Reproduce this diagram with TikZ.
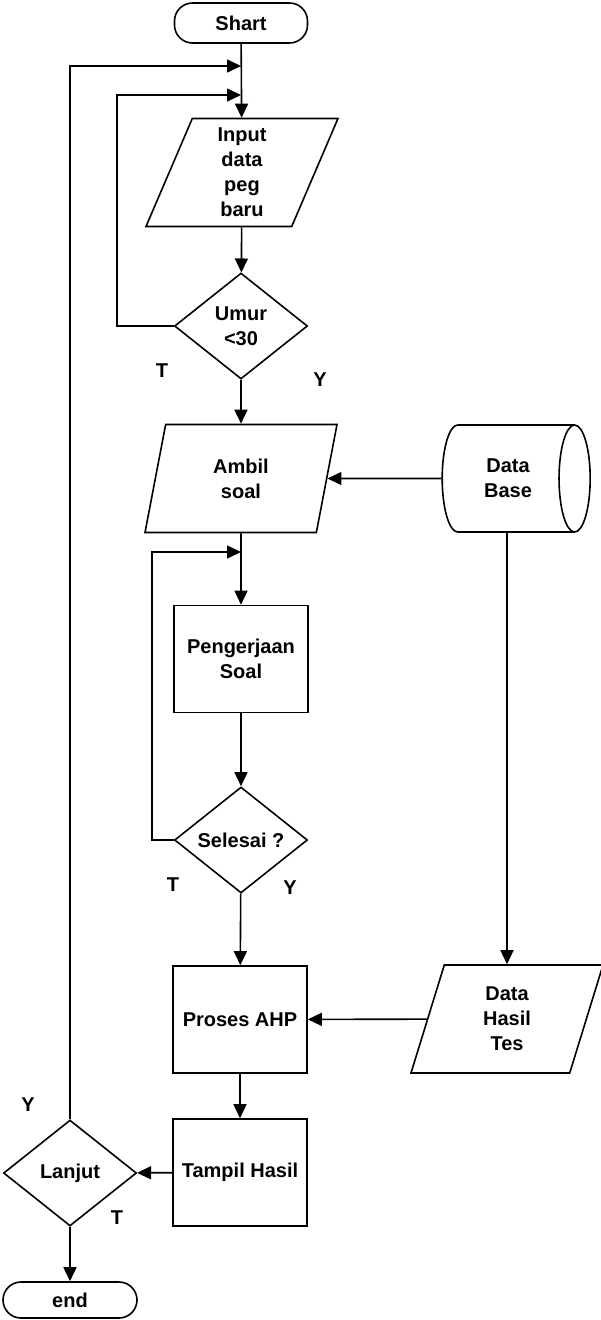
\documentclass[tikz,border=0pt]{standalone}
\usepackage{fontspec}
\setmainfont{Liberation Sans}
\usetikzlibrary{shapes.geometric, arrows.meta}

\tikzset{
  base/.style={draw, line width=1.6pt, align=center, inner sep=0pt,
    font=\bfseries\fontsize{20}{25}\selectfont},
  terminal/.style={base, rectangle, rounded corners=18pt, minimum width=133pt},
  io/.style={base, trapezium, trapezium left angle=62.5, trapezium right angle=117.5,
    trapezium stretches body, minimum width=192pt, minimum height=108pt},
  process/.style={base, rectangle, minimum width=134pt, minimum height=107pt},
  decision/.style={base, diamond, minimum width=133pt, minimum height=106pt},
  storage/.style={base, cylinder, shape aspect=0.8, minimum width=107pt, minimum height=148pt},
  lbl/.style={font=\bfseries\fontsize{20}{25}\selectfont},
  arr/.style={line width=1.6pt, -{Triangle[length=14pt,width=13pt]}},
  line/.style={line width=1.6pt}
}

\begin{document}
\begin{tikzpicture}[x=1pt, y=-1pt]
  \useasboundingbox (0,0) rectangle (600,1320);

  % main column
  \node[terminal, minimum height=40pt] (start) at (241,23) {Shart};
  \node[io] (input) at (242,172.5) {Input\\data\\peg\\baru};
  \node[decision] (umur) at (241,326) {Umur\\<30};
  \node[io] (ambil) at (241,478.5) {Ambil\\soal};
  \node[process] (kerja) at (241,659) {Pengerjaan\\Soal};
  \node[decision] (selesai) at (241,840) {Selesai ?};
  \node[process] (ahp) at (240,1019.5) {Proses AHP};
  \node[process] (tampil) at (240,1172.5) {Tampil Hasil};
  \node[decision] (lanjut) at (70,1173) {Lanjut};
  \node[terminal, minimum width=134pt, minimum height=36pt] (end) at (70,1300) {end};

  % side column
  \node[storage] (db) at (508,478.5) {Data\\Base};
  \node[io] (hasil) at (507,1019) {Data\\Hasil\\Tes};

  % join points on the main line
  \coordinate (j1) at (241,66);
  \coordinate (j2) at (241,95);
  \coordinate (j3) at (241,552);

  % labels
  \node[lbl] (t1) at (162,371) {T};
  \node[lbl] (y1) at (320,380) {Y};
  \node[lbl] (t2) at (173,885) {T};
  \node[lbl] (y2) at (290,888) {Y};
  \node[lbl] (y3) at (28,1105) {Y};
  \node[lbl] (t3) at (117,1218) {T};

  % connectors
  \draw[arr] (start) -- (input);
  \draw[arr] (input) -- (umur);
  \draw[arr] (umur.west) -| (117,95) -- (j2);
  \draw[arr] (umur) -- (ambil);
  \draw[arr] (db) -- (ambil);
  \draw[arr] (ambil) -- (kerja);
  \draw[arr] (kerja) -- (selesai);
  \draw[arr] (selesai.west) -| (152,552) -- (j3);
  \draw[arr] (selesai) -- (ahp);
  \draw[arr] (db.south -| hasil.north) -- (hasil.north);
  \draw[arr] (hasil) -- (ahp);
  \draw[arr] (ahp) -- (tampil);
  \draw[arr] (tampil) -- (lanjut);
  \draw[arr] (lanjut.north) |- (j1);
  \draw[arr] (lanjut) -- (end);
\end{tikzpicture}
\end{document}
